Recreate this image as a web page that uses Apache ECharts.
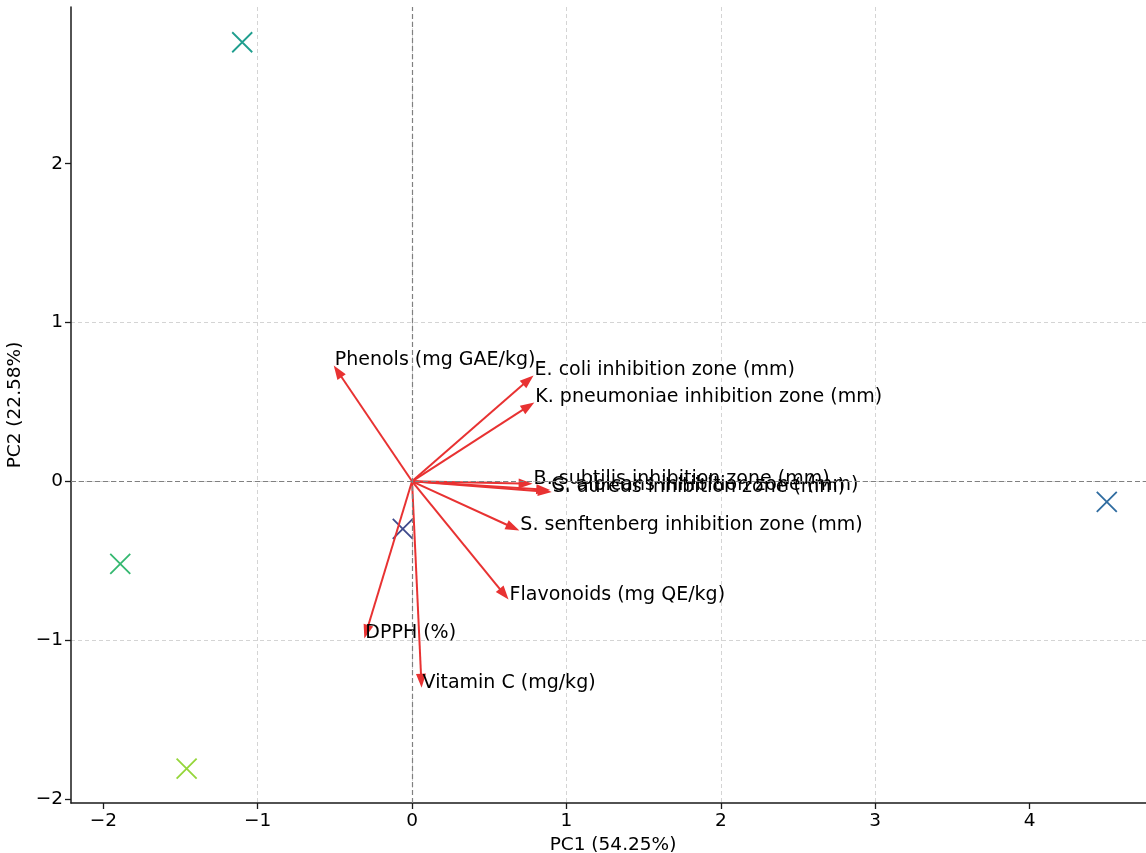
<!DOCTYPE html>
<html>
<head>
<meta charset="utf-8">
<script src="https://cdn.jsdelivr.net/npm/echarts@6/dist/echarts.min.js"></script>
<style>html,body{margin:0;padding:0;background:#fff}#c{width:1146px;height:853px}</style>
</head>
<body>
<div id="c"></div>
<script>
// Sample scores
var scorePC1 = [-1.10, -1.89, -1.46, -0.06, 4.50];
var scorePC2 = [2.765, -0.52, -1.81, -0.30, -0.13];
var scoreColors = ['#1f9e8e', '#35b870', '#95d63a', '#3f4a8c', '#2f6ca0'];

// Variable loadings
var varNames = [
  'Phenols (mg GAE/kg)',
  'E. coli inhibition zone (mm)',
  'K. pneumoniae inhibition zone (mm)',
  'B. subtilis inhibition zone (mm)',
  'C. albicans inhibition zone (mm)',
  'S. aureus inhibition zone (mm)',
  'S. senftenberg inhibition zone (mm)',
  'Flavonoids (mg QE/kg)',
  'DPPH (%)',
  'Vitamin C (mg/kg)'
];
var loadPC1 = [-0.507, 0.787, 0.792, 0.781, 0.895, 0.905, 0.695, 0.625, -0.309, 0.062];
var loadPC2 = [0.729, 0.667, 0.497, -0.016, -0.055, -0.068, -0.31, -0.745, -0.99, -1.30];

var xTicks = [-2, -1, 0, 1, 2, 3, 4];
var yTicks = [-2, -1, 0, 1, 2];

var FONT = '"DejaVu Sans", sans-serif';
var ARROW = '#e83232';

var chart = echarts.init(document.getElementById('c'));

var scatterData = scorePC1.map(function (x, i) {
  return { value: [x, scorePC2[i]], itemStyle: { color: 'rgba(0,0,0,0)', borderColor: scoreColors[i], borderWidth: 1.8, opacity: 1 } };
});
var loadData = loadPC1.map(function (x, i) { return [x, loadPC2[i]]; });

function fmt(v) { return String(v).replace('-', '\u2212'); }

var option = {
  animation: false,
  backgroundColor: '#fff',
  grid: { left: 71, right: 0, top: 7, bottom: 50, containLabel: false, outerBoundsMode: 'none' },
  xAxis: {
    type: 'value', min: -2.209, max: 4.754, splitNumber: 7,
    name: 'PC1 (54.25%)', nameLocation: 'middle', nameGap: 31,
    nameTextStyle: { fontSize: 18.5, color: '#000', fontFamily: FONT, padding: [0, 0, 0, 9] },
    axisLine: { onZero: false, lineStyle: { color: '#1a1a1a', width: 1.5 } },
    axisTick: { customValues: xTicks, length: 6, lineStyle: { color: '#1a1a1a', width: 1.3 } },
    axisLabel: { customValues: xTicks, formatter: fmt, fontSize: 18.5, color: '#000', fontFamily: FONT, margin: 9 },
    splitLine: { show: true, showMinLine: false, showMaxLine: false, lineStyle: { color: '#d4d4d4', type: [4, 3], width: 1 } }
  },
  yAxis: {
    type: 'value', min: -2.026, max: 2.987, splitNumber: 5,
    name: 'PC2 (22.58%)', nameLocation: 'middle', nameGap: 42,
    nameTextStyle: { fontSize: 18.5, color: '#000', fontFamily: FONT },
    axisLine: { onZero: false, lineStyle: { color: '#1a1a1a', width: 1.5 } },
    axisTick: { customValues: yTicks, length: 6, lineStyle: { color: '#1a1a1a', width: 1.3 } },
    axisLabel: { customValues: yTicks, formatter: fmt, fontSize: 18.5, color: '#000', fontFamily: FONT, margin: 8 },
    splitLine: { show: true, showMinLine: false, showMaxLine: false, lineStyle: { color: '#d4d4d4', type: [4, 3], width: 1 } }
  },
  series: [
    {
      type: 'scatter',
      symbol: 'path://M0,0L10,10M10,0L0,10',
      symbolSize: 20,
      data: scatterData,
      z: 2,
      markLine: {
        silent: true, symbol: 'none', label: { show: false },
        lineStyle: { color: '#808080', type: [5, 3], width: 1.2 },
        data: [{ xAxis: 0 }, { yAxis: 0 }]
      }
    },
    {
      type: 'custom',
      data: loadData,
      z: 3,
      renderItem: function (params, api) {
        var o = api.coord([0, 0]);
        var t = api.coord([api.value(0), api.value(1)]);
        var dx = t[0] - o[0], dy = t[1] - o[1];
        var len = Math.sqrt(dx * dx + dy * dy);
        var ux = dx / len, uy = dy / len;
        var L = 14, W = 10;
        var bx = t[0] - ux * L, by = t[1] - uy * L;
        return {
          type: 'group',
          children: [
            { type: 'line', shape: { x1: o[0], y1: o[1], x2: bx + ux * 2, y2: by + uy * 2 }, style: { stroke: ARROW, lineWidth: 2 } },
            { type: 'polygon', shape: { points: [[t[0], t[1]], [bx - uy * W / 2, by + ux * W / 2], [bx + uy * W / 2, by - ux * W / 2]] }, style: { fill: ARROW } }
          ]
        };
      }
    },
    {
      type: 'custom',
      data: loadData,
      z: 4,
      renderItem: function (params, api) {
        var t = api.coord([api.value(0), api.value(1)]);
        return {
          type: 'text', x: t[0] + 1, y: t[1] - 5,
          style: { text: varNames[params.dataIndex], fill: '#000', font: '19px ' + FONT, align: 'left', verticalAlign: 'middle' }
        };
      }
    }
  ]
};
chart.setOption(option);
</script>
</body>
</html>
